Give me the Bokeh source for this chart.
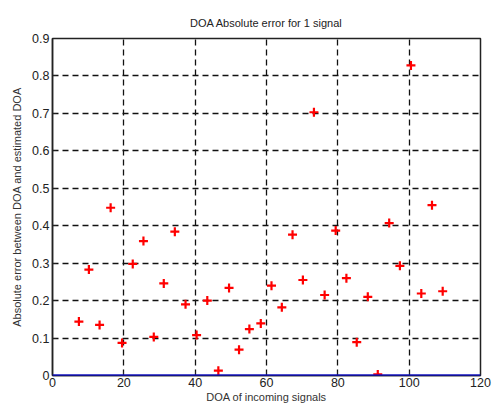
from bokeh.plotting import figure
from bokeh.models import Range1d, FixedTicker, Span, ColumnDataSource
from bokeh.embed import file_html
from bokeh.resources import INLINE

doa = [7.4, 10.2, 13.2, 16.3, 19.5, 22.5, 25.5, 28.4, 31.2, 34.3, 37.3, 40.4,
       43.4, 46.5, 49.5, 52.3, 55.2, 58.4, 61.4, 64.3, 67.3, 70.2, 73.3, 76.3,
       79.4, 82.4, 85.3, 88.4, 91.2, 94.4, 97.4, 100.5, 103.4, 106.4, 109.4]
err = [0.144, 0.283, 0.135, 0.448, 0.087, 0.298, 0.359, 0.103, 0.246, 0.384,
       0.190, 0.108, 0.200, 0.013, 0.234, 0.069, 0.124, 0.139, 0.240, 0.182,
       0.376, 0.255, 0.703, 0.215, 0.387, 0.260, 0.089, 0.210, 0.003, 0.407,
       0.293, 0.828, 0.219, 0.455, 0.225]
x_ticks = [0, 20, 40, 60, 80, 100, 120]
y_ticks = [0, 0.1, 0.2, 0.3, 0.4, 0.5, 0.6, 0.7, 0.8, 0.9]

FONT = "Liberation Sans"

p = figure(width=492, height=408, output_backend="svg", toolbar_location=None,
           x_range=Range1d(0, 120), y_range=Range1d(0, 0.9),
           min_border_left=52, min_border_right=12, min_border_top=38,
           min_border_bottom=33, title="DOA Absolute error for 1 signal")

p.title.align = "center"
p.title.text_font = FONT
p.title.text_font_size = "11px"
p.title.text_font_style = "normal"
p.title.text_color = "#222222"
p.title.standoff = 19

p.background_fill_color = "white"
p.border_fill_color = "white"
p.outline_line_color = "#222222"
p.outline_line_width = 1.5

p.xaxis.ticker = FixedTicker(ticks=x_ticks)
p.yaxis.ticker = FixedTicker(ticks=y_ticks)
p.yaxis.formatter.use_scientific = False

for ax in (p.xaxis, p.yaxis):
    ax.major_label_text_font = FONT
    ax.major_label_text_font_size = "12.5px"
    ax.major_label_text_color = "#222222"
    ax.axis_label_text_font = FONT
    ax.axis_label_text_font_size = "11px"
    ax.axis_label_text_font_style = "normal"
    ax.axis_label_text_color = "#333333"
    ax.axis_line_color = "#222222"
    ax.axis_line_width = 1.5
    ax.major_tick_in = 4
    ax.major_tick_out = 0
    ax.major_tick_line_color = "#222222"
    ax.minor_tick_line_color = None

p.xaxis.axis_label = "DOA of incoming signals"
p.yaxis.axis_label = "Absolute error between DOA and estimated DOA"
p.xaxis.major_label_standoff = 2
p.yaxis.major_label_standoff = 3
p.xaxis.axis_label_standoff = 1
p.yaxis.axis_label_standoff = 6

p.grid.grid_line_color = "#111111"
p.grid.grid_line_dash = "6 4"
p.grid.grid_line_width = 1.3

zero = Span(location=0, dimension="width", line_color="#0000ff", line_width=2)
p.add_layout(zero)

src = ColumnDataSource(data=dict(x=doa, y=err))
p.scatter("x", "y", source=src, marker="cross", size=9, line_color="#ff0000",
          line_width=2.2)

open("out.html", "w").write(file_html(p, INLINE))
